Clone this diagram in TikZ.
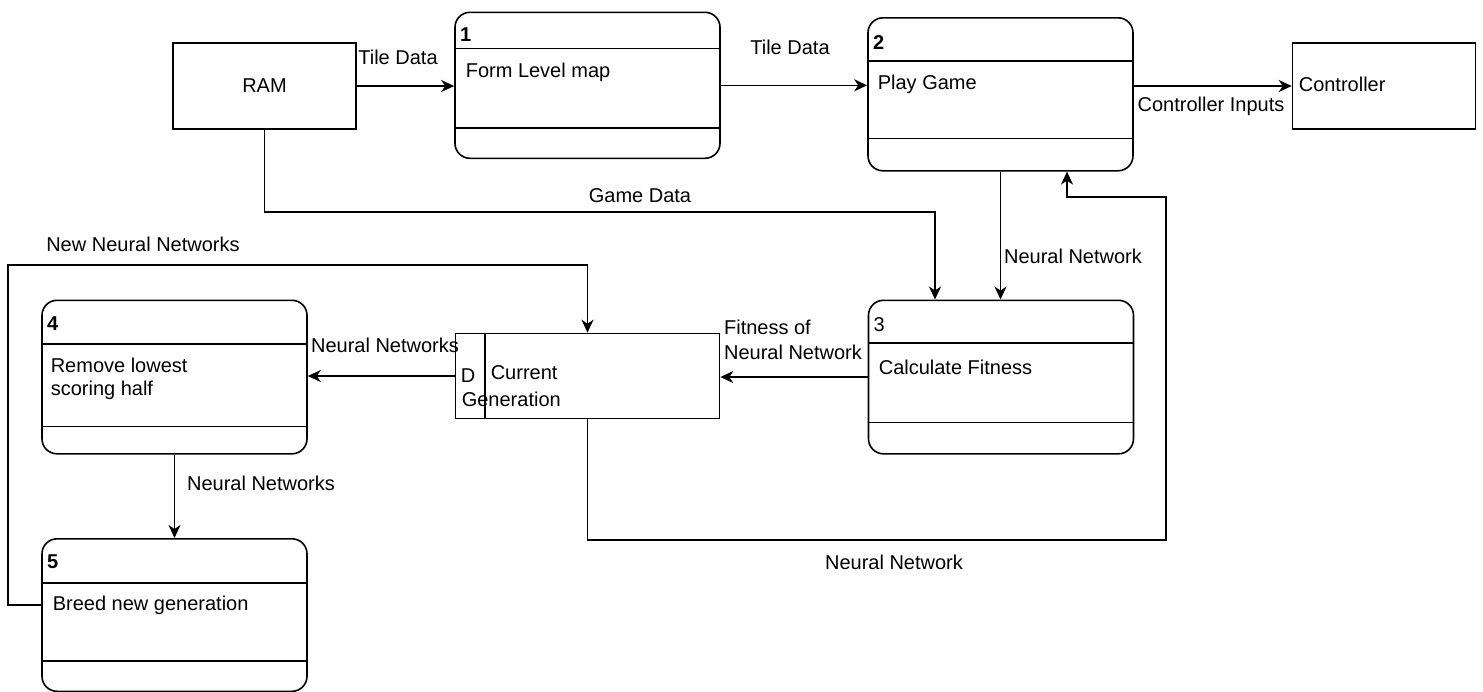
\documentclass[tikz,border=0pt]{standalone}
\usepackage{fontspec}
\setmainfont{Liberation Sans}
\usetikzlibrary{arrows.meta,calc}
\tikzset{
  proc/.style={draw, rounded corners=15pt, minimum width=265pt, inner sep=0pt},
  ext/.style={draw, minimum width=183pt, minimum height=86pt, inner sep=0pt},
  lbl/.style={inner sep=0pt},
  num/.style={inner sep=0pt, anchor=west, font=\fontsize{20}{24}\selectfont\bfseries},
  flow/.style={-{Stealth[length=13pt,width=12pt,inset=4pt]}},
}

\begin{document}
\begin{tikzpicture}[x=1pt, y=-1pt, line width=1.6pt, font=\fontsize{20}{24}\selectfont]
  \useasboundingbox (0,0) rectangle (1483,691);
  % external entities
  \node[ext] (ram) at (264.5,86) {RAM};
  \node[ext] (ctrl) at (1384,86) {};
  \node[lbl, anchor=west] (ctrltxt) at (1298,84) {Controller};
  % processes
  \foreach \n/\x/\t/\h/\hd/\ft in {1/587.5/11.5/146/37/31, 2/1000.5/17/153/44/33, 3/1001/299.5/153.5/43.5/32, 4/174.5/299.5/153.5/44.5/28, 5/174.5/538/152.5/45/31}{
    \node[proc, minimum height=\h pt, anchor=north] (p\n) at (\x,\t) {};
    \draw ($(p\n.north west)+(0,\hd)$) -- ($(p\n.north east)+(0,\hd)$);
    \draw ($(p\n.south west)-(0,\ft)$) -- ($(p\n.south east)-(0,\ft)$);
  }
  \node[num] (n1) at ($(p1.north west)+(5,23)$) {1};
  \node[num] (n2) at ($(p2.north west)+(5,26)$) {2};
  \node[num, font=\fontsize{20}{24}\selectfont] (n3) at ($(p3.north west)+(5,25)$) {3};
  \node[num] (n4) at ($(p4.north west)+(5,24)$) {4};
  \node[num] (n5) at ($(p5.north west)+(5,24)$) {5};
  \node[lbl, anchor=west] (t1) at (465,72) {Form Level map};
  \node[lbl, anchor=west] (t2) at (877,84) {Play Game};
  \node[lbl, anchor=west] (t3) at (878,367) {Calculate Fitness};
  \node[lbl, anchor=west, align=left, font=\fontsize{20}{23}\selectfont] (t4) at (50,378.5) {Remove lowest\\scoring half};
  \node[lbl, anchor=west] (t5) at (52,605) {Breed new generation};
  % data store
  \node[draw, minimum width=264pt, minimum height=85pt, inner sep=0pt] (store) at (587.5,376) {};
  \draw ($(store.north west)+(30,0)$) -- ($(store.south west)+(30,0)$);
  \node[lbl, anchor=west] (sd) at (460,376) {D};
  \node[lbl, anchor=west] (scur) at (490,373) {Current};
  \node[lbl, anchor=west] (sgen) at (461,399) {Generation};
  % flows
  \coordinate (gd) at (935,212);
  \coordinate (nnR) at (1166,540);
  \coordinate (nnT) at (1067,197);
  \coordinate (newL) at (8,265);
  \draw[flow] (ram.east) -- (p1.west |- ram.east);
  \draw[flow] (p1.east) -- (p2.west |- p1.east);
  \draw[flow] (p2.east |- ctrl.west) -- (ctrl.west);
  \draw[flow] (ram.south) |- (gd) -- (gd |- p3.north);
  \draw[flow] (p2.south) -- (p2.south |- p3.north);
  \draw[flow] (p3.west) -- (store.east |- p3.west);
  \draw[flow] (store.west) -- (p4.east |- store.west);
  \draw[flow] (p4.south) -- (p5.north);
  \draw[flow] (store.south) |- (nnR) |- (nnT) -- (nnT |- p2.south);
  \draw[flow] ($(p5.west)+(0,-10)$) -| (newL) -| (store.north);
  % labels
  \node[lbl] (lTile1) at (398,57) {Tile Data};
  \node[lbl] (lTile2) at (790,47) {Tile Data};
  \node[lbl] (lCtrl) at (1211,106) {Controller Inputs};
  \node[lbl] (lGame) at (640,196) {Game Data};
  \node[lbl] (lNN1) at (1073,256) {Neural Network};
  \node[lbl, align=left, font=\fontsize{20}{25}\selectfont] (lFit) at (793,340) {Fitness of\\Neural Network};
  \node[lbl] (lNNs1) at (385,345) {Neural Networks};
  \node[lbl] (lNN2) at (894,562) {Neural Network};
  \node[lbl] (lNNs2) at (261,483) {Neural Networks};
  \node[lbl] (lNew) at (143,244) {New Neural Networks};
\end{tikzpicture}
\end{document}
